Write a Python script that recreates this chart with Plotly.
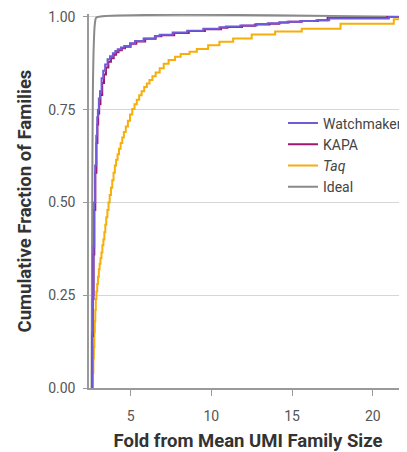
import plotly.graph_objects as go

# ---- data (x = fold from mean, y = cumulative fraction) ----
watch_x = [2.58, 2.62, 2.66, 2.70, 2.74, 2.80, 2.87, 2.93, 2.97, 3.03, 3.10, 3.20, 3.30, 3.42, 3.57, 3.72,
           3.90, 4.05, 4.20, 4.40, 4.60, 4.96, 5.27, 5.80, 6.50, 6.80, 7.60, 8.50, 9.50, 10.50, 10.90,
           11.80, 12.80, 13.50, 14.25, 14.70, 15.50, 16.50, 17.30, 21.00, 22.5]
watch_y = [0.00, 0.15, 0.25, 0.38, 0.50, 0.60, 0.68, 0.73, 0.75, 0.78, 0.80, 0.835, 0.855, 0.872, 0.886, 0.894,
           0.902, 0.908, 0.913, 0.918, 0.922, 0.929, 0.935, 0.942, 0.949, 0.952, 0.958, 0.963, 0.968, 0.972, 0.974,
           0.977, 0.981, 0.983, 0.985, 0.987, 0.989, 0.991, 0.996, 1.000, 1.000]

kapa_x = [2.58, 2.62, 2.66, 2.70, 2.75, 2.81, 2.88, 2.94, 2.99, 3.05, 3.13, 3.24, 3.35, 3.47, 3.62, 3.78,
          3.95, 4.10, 4.25, 4.45, 4.65, 5.00, 5.35, 5.90, 6.55, 6.90, 7.70, 8.60, 9.60, 10.60, 11.00,
          11.90, 12.70, 13.60, 14.20, 14.80, 15.60, 16.60, 17.20, 20.90, 22.5]
kapa_y = [0.00, 0.14, 0.24, 0.36, 0.48, 0.58, 0.66, 0.71, 0.74, 0.765, 0.79, 0.822, 0.845, 0.864, 0.879, 0.889,
          0.898, 0.905, 0.910, 0.916, 0.920, 0.928, 0.934, 0.941, 0.948, 0.951, 0.957, 0.962, 0.967, 0.971, 0.973,
          0.976, 0.980, 0.982, 0.985, 0.987, 0.989, 0.991, 0.997, 1.000, 1.000]

taq_x = [2.63, 2.66, 2.69, 2.72, 2.75, 2.78, 2.81, 2.84, 2.88, 2.93, 2.98, 3.03, 3.08, 3.13, 3.19,
         3.25, 3.31, 3.37, 3.43, 3.49, 3.56, 3.63, 3.70, 3.78, 3.86, 3.94, 4.02, 4.10, 4.19, 4.28,
         4.38, 4.48, 4.58, 4.70, 4.83, 4.96, 5.10, 5.24, 5.38, 5.53, 5.68, 5.84, 6.00, 6.17, 6.35,
         6.55, 6.80, 7.05, 7.35, 7.75, 8.10, 8.65, 9.10, 9.80, 10.50, 11.35, 12.50, 13.95,
         15.60, 18.00, 21.30, 22.5]
taq_y = [0.00, 0.04, 0.08, 0.11, 0.15, 0.18, 0.21, 0.24, 0.26, 0.28, 0.30, 0.32, 0.335, 0.35, 0.365,
         0.385, 0.40, 0.42, 0.44, 0.46, 0.48, 0.50, 0.52, 0.54, 0.56, 0.58, 0.60, 0.615, 0.63, 0.645,
         0.66, 0.675, 0.69, 0.705, 0.72, 0.737, 0.752, 0.765, 0.777, 0.789, 0.80, 0.811, 0.821, 0.83, 0.84,
         0.85, 0.862, 0.874, 0.884, 0.893, 0.900, 0.906, 0.914, 0.924, 0.933, 0.942, 0.953, 0.961,
         0.968, 0.982, 0.994, 0.994]

ideal_x = [2.58, 2.60, 2.62, 2.66, 2.72, 2.78, 2.85, 2.95, 22.5]
ideal_y = [0.00, 0.25, 0.50, 0.80, 0.93, 0.98, 0.997, 1.00, 1.00]

x_ticks = [5, 10, 15, 20]
y_ticks = [0.00, 0.25, 0.50, 0.75, 1.00]

fig = go.Figure()
fig.add_trace(go.Scatter(x=ideal_x, y=ideal_y, mode="lines", name="Ideal", legendrank=4,
                         line=dict(color="#8a8a8a", width=2, shape="spline")))
fig.add_trace(go.Scatter(x=taq_x, y=taq_y, mode="lines", name="<i>Taq</i>", legendrank=3,
                         line=dict(color="#F5AE0A", width=2, shape="hv")))
fig.add_trace(go.Scatter(x=kapa_x, y=kapa_y, mode="lines", name="KAPA", legendrank=2,
                         line=dict(color="#A2166E", width=2, shape="hv")))
fig.add_trace(go.Scatter(x=watch_x, y=watch_y, mode="lines", name="Watchmaker", legendrank=1,
                         line=dict(color="#6F5BD8", width=2, shape="hv")))

axis_col = "#9a9a9a"
tick_font = dict(family="Roboto", size=14, color="#555555")
title_font = dict(family="Roboto", size=18.5, color="#333333", weight="bold")

fig.update_layout(
    width=399, height=444,
    margin=dict(l=81, r=0, t=6, b=64),
    paper_bgcolor="white", plot_bgcolor="white",
    showlegend=True,
    legend=dict(x=0.61, y=0.75, xanchor="left", yanchor="top",
                bgcolor="rgba(0,0,0,0)", font=dict(family="Roboto", size=14, color="#444444"),
                tracegroupgap=0),
    xaxis=dict(range=[2.42, 22.12], tickvals=x_ticks, ticks="outside", ticklen=6, tickwidth=1,
               tickcolor=axis_col, showline=True, linecolor=axis_col, linewidth=1.5,
               showgrid=False, zeroline=False, tickfont=tick_font, ticklabelstandoff=8,
               automargin=False,
               title=dict(text="Fold from Mean UMI Family Size", font=title_font, standoff=14)),
    yaxis=dict(range=[0, 1.008], tickvals=y_ticks, tickformat=".2f", ticks="outside", ticklen=4,
               tickwidth=1, tickcolor=axis_col, showline=True, linecolor=axis_col, linewidth=1.5,
               showgrid=True, gridcolor="#d6d6d6", gridwidth=1, zeroline=False,
               tickfont=tick_font, ticklabelstandoff=5, automargin=False,
               title=dict(text="Cumulative Fraction of Families", font=title_font, standoff=12)),
)

fig.write_html("out.html")
